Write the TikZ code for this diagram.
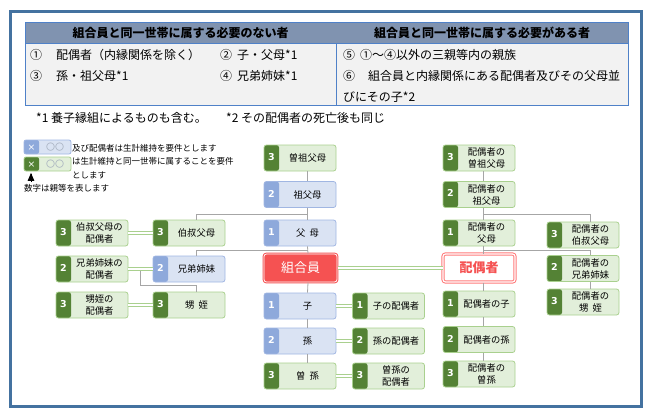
\documentclass[tikz,border=0pt]{standalone}
\usepackage{fontspec}
\setmainfont{Noto Sans CJK JP}
\newfontfamily\numfont{DejaVu Sans}
\usepackage{xcolor}
\usepackage{tikz}
\usetikzlibrary{arrows}
\usetikzlibrary{calc}
\usetikzlibrary{positioning}

\definecolor{framec}{RGB}{68,114,160}
\definecolor{hdrc}{RGB}{128,147,176}
\definecolor{bodyc}{RGB}{242,242,242}
\definecolor{tlinec}{RGB}{79,129,200}
\definecolor{bfill}{RGB}{218,227,243}
\definecolor{bline}{RGB}{160,182,226}
\definecolor{bstrip}{RGB}{142,169,219}
\definecolor{gfill}{RGB}{226,239,218}
\definecolor{gline}{RGB}{169,208,142}
\definecolor{gstrip}{RGB}{84,130,53}
\definecolor{treec}{RGB}{166,166,166}
\definecolor{kred}{RGB}{245,82,82}
\definecolor{spred}{RGB}{255,122,122}
\definecolor{legc}{RGB}{165,175,190}

\newcommand{\kin}[2]{\makebox[15pt]{\numfont\bfseries\color{white}\fontsize{9.5}{10}\selectfont #1}\parbox[c]{57pt}{\centering #2}}

\begin{document}
\begin{tikzpicture}[x=1pt, y=-1pt]
 	  \tikzstyle{kin}=[rounded corners=2.5pt, minimum width=72pt, minimum height=26pt, inner sep=0pt, line width=.8pt, font=\fontsize{9.3}{12}\selectfont]
 	  \tikzstyle{bkin}=[kin, draw=bline, fill=bfill, path picture={\fill[bstrip] (path picture bounding box.north west) rectangle ([xshift=15pt]path picture bounding box.south west);}]
 	  \tikzstyle{gkin}=[kin, draw=gline, fill=gfill, path picture={\fill[gstrip] (path picture bounding box.north west) rectangle ([xshift=15pt]path picture bounding box.south west);}]
 	  \tikzstyle{selfbox}=[kin, minimum width=73pt, minimum height=28pt, fill=kred, draw=kred, line width=1pt, double=white, double distance=.8pt, text=white, font=\fontsize{13}{14}\selectfont]
 	  \tikzstyle{spbox}=[kin, minimum height=28pt, fill=white, draw=spred, line width=1pt, double=white, double distance=1.2pt, text=kred, font=\bfseries\fontsize{13}{14}\selectfont]
 	  \tikzstyle{tree}=[draw=treec, line width=.8pt]
 	  \tikzstyle{wed}=[draw=gline, line width=1.1pt, double=white, double distance=2.4pt]
 	  \tikzstyle{cell}=[anchor=west, inner sep=0pt, font=\fontsize{12}{14}\selectfont]
 	  \tikzstyle{hd}=[inner sep=0pt, font=\bfseries\fontsize{12}{14}\selectfont]
 	  \tikzstyle{leg}=[anchor=west, inner sep=0pt, font=\fontsize{8.5}{10}\selectfont]
\useasboundingbox (0,0) rectangle (651,418);
\draw[framec, line width=3pt] (10.5,11.5) rectangle (641,406.5);
% table
\fill[hdrc] (25,22) rectangle (628,43.5);
\fill[bodyc] (25,43.5) rectangle (628,105.5);
\draw[tlinec, line width=.8pt] (25,22) rectangle (628,105.5);
\draw[tlinec, line width=.8pt] (25,43.5) -- (628,43.5);
\draw[tlinec, line width=.8pt] (336,43.5) -- (336,105.5);
    \node[hd] (hdl) at (180.5,33) {組合員と同一世帯に属する必要のない者};
    \node[hd] (hdr) at (482,33) {組合員と同一世帯に属する必要がある者};
    \node[cell] (r1a) at (30,55) {①\hspace{14pt}配偶者（内縁関係を除く）};
    \node[cell] (r1b) at (220,55) {②\hspace{5pt}子・父母*1};
    \node[cell] (r2a) at (30,76) {③\hspace{14pt}孫・祖父母*1};
    \node[cell] (r2b) at (220,76) {④\hspace{5pt}兄弟姉妹*1};
    \node[cell] (r1c) at (343,55) {⑤\hspace{5pt}①〜④以外の三親等内の親族};
    \node[cell] (r2c) at (343,76) {⑥\hspace{13pt}組合員と内縁関係にある配偶者及びその父母並};
    \node[cell] (r3c) at (343,97) {びにその子*2};
    \node[cell] (fn1) at (36,118) {*1 養子縁組によるものも含む。};
    \node[cell] (fn2) at (226,118) {*2 その配偶者の死亡後も同じ};
% legend
    \node[bkin, minimum width=47pt, minimum height=14pt, rounded corners=2pt] (legb) at (47.5,147) {\makebox[15pt]{\numfont\color{white}×}\makebox[32pt]{\fontsize{9}{10}\selectfont\color{legc}〇〇}};
    \node[gkin, minimum width=47pt, minimum height=14pt, rounded corners=2pt] (legg) at (47.5,164) {\makebox[15pt]{\numfont\color{white}×}\makebox[32pt]{\fontsize{9}{10}\selectfont\color{legc}〇〇}};
    \node[leg] (lt1) at (72,148) {及び配偶者は生計維持を要件とします};
    \node[leg] (lt2) at (72,161) {は生計維持と同一世帯に属することを要件};
    \node[leg] (lt3) at (72,175) {とします};
    \node[leg] (lt4) at (24,188) {数字は親等を表します};
    \coordinate (atail) at (31,182);
\draw[-triangle 45, line width=.8pt, shorten >=1.5pt] (atail) -- (atail |- legg.south);
% member side
    \node[gkin] (ssf) at (300,158) {\kin{3}{曽祖父母}};
    \node[bkin] (sf) at (300,194.5) {\kin{2}{祖父母}};
    \node[bkin] (fb) at (300,233) {\kin{1}{父\hspace{4pt}母}};
    \node[selfbox] (kumi) at (300.5,268) {組合員};
    \node[bkin] (ko) at (300,306) {\kin{1}{子}};
    \node[bkin] (mago) at (300,341) {\kin{2}{孫}};
    \node[gkin] (hmago) at (300,376) {\kin{3}{曽\hspace{4pt}孫}};
    \node[gkin] (oji) at (189,233) {\kin{3}{伯叔父母}};
    \node[bkin] (kyo) at (189,269) {\kin{2}{兄弟姉妹}};
    \node[gkin] (oi) at (189,305) {\kin{3}{甥\hspace{4pt}姪}};
    \node[gkin] (ojisp) at (92,233) {\kin{3}{伯叔父母の\\配偶者}};
    \node[gkin] (kyosp) at (92,269) {\kin{2}{兄弟姉妹の\\配偶者}};
    \node[gkin] (oisp) at (92,305) {\kin{3}{甥姪の\\配偶者}};
    \node[gkin] (kosp) at (388.5,306) {\kin{1}{子の配偶者}};
    \node[gkin] (magosp) at (388.5,341) {\kin{2}{孫の配偶者}};
    \node[gkin] (hmagosp) at (388.5,376) {\kin{3}{曽孫の\\配偶者}};
% spouse side
    \node[gkin] (spssf) at (479,158) {\kin{3}{配偶者の\\曽祖父母}};
    \node[gkin] (spsf) at (479,194.5) {\kin{2}{配偶者の\\祖父母}};
    \node[gkin] (spfb) at (479,233) {\kin{1}{配偶者の\\父母}};
    \node[spbox] (spouse) at (479,268) {配偶者};
    \node[gkin] (spko) at (479,304) {\kin{1}{配偶者の子}};
    \node[gkin] (spmago) at (479,339.5) {\kin{2}{配偶者の孫}};
    \node[gkin] (sphmago) at (479,374) {\kin{3}{配偶者の\\曽孫}};
    \node[gkin] (spoji) at (583,235) {\kin{3}{配偶者の\\伯叔父母}};
    \node[gkin] (spkyo) at (583,268.5) {\kin{2}{配偶者の\\兄弟姉妹}};
    \node[gkin] (spoi) at (583,302) {\kin{3}{配偶者の\\甥\hspace{4pt}姪}};
% lines
\foreach \a/\b in {ssf/sf, sf/fb, fb/kumi, kumi/ko, ko/mago, mago/hmago}
    \draw[tree] ([xshift=7.5pt]\a.south) -- ([xshift=7.5pt]\b.north);
\foreach \a/\b in {spssf/spsf, spsf/spfb, spfb/spouse, spouse/spko, spko/spmago, spmago/sphmago}
    \draw[tree] ([xshift=4pt]\a.south) -- ([xshift=4pt]\b.north);
\draw[tree] ([xshift=7.5pt]sf.south) ++(0,6) -| ([xshift=7.5pt]oji.north);
\draw[tree] ([xshift=7.5pt]fb.south) ++(0,4) -| ([xshift=7.5pt]kyo.north);
\draw[tree] ([xshift=4pt]spsf.south) ++(0,6) -| ([xshift=7.5pt]spoji.north);
\draw[tree] ([xshift=4pt]spfb.south) ++(0,4) -| ([xshift=7.5pt]spkyo.north);
\draw[tree] ([xshift=7.5pt]spkyo.south) -- ([xshift=7.5pt]spoi.north);
\foreach \a/\b in {ojisp/oji, kyosp/kyo, oisp/oi, kumi/spouse, ko/kosp, mago/magosp, hmago/hmagosp}
    \draw[wed] (\a.east) -- (\a.east -| \b.west);
\draw[tree] ($(kyosp.east)!.5!(kyo.west)+(0,1.7)$) -- ++(0,15) -| ([xshift=7.5pt]oi.north);
   \end{tikzpicture}
\end{document}
